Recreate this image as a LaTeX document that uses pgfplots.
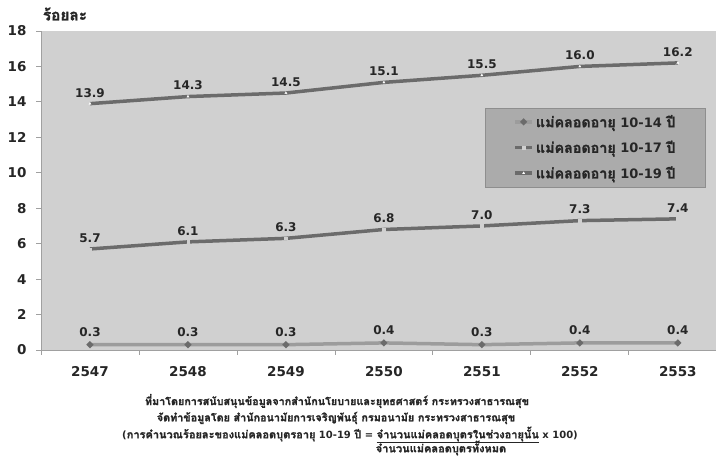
\documentclass[border=0pt]{standalone}
\usepackage{fontspec}
\setmainfont{DejaVu Sans}
\newfontfamily\thai[Script=Thai, Scale=1.1, BoldFeatures={FakeBold=1.5}]{Loma}
\usepackage{pgfplots}
\pgfplotsset{compat=1.18}
\definecolor{bg}{HTML}{D0D0D0}
\definecolor{legbg}{HTML}{ABABAB}
\definecolor{legdraw}{HTML}{8E8E8E}
\definecolor{lightln}{HTML}{9C9C9C}
\definecolor{darkln}{HTML}{6B6B6B}
\definecolor{axln}{HTML}{A0A0A0}
\definecolor{txt}{HTML}{262626}
\newcommand\fs[1]{\fontsize{#1}{#1}\selectfont}
\begin{document}
\begin{tikzpicture}[x=1pt,y=1pt]
\path[use as bounding box] (0,0) rectangle (716,457);
\begin{axis}[
  at={(41pt,107pt)}, anchor=south west,
  width=675pt, height=319pt, scale only axis,
  xmin=-0.5, xmax=6.39, ymin=0, ymax=18,
  ytick={0,2,...,18},
  xtick={0,...,6},
  xticklabels={2547,2548,2549,2550,2551,2552,2553},
  minor xtick={-0.5,0.5,...,5.5},
  axis x line*=bottom, axis y line*=left,
  axis line style={draw=axln, line width=0.8pt},
  axis background/.style={fill=bg},
  tick align=outside,
  major tick length=5pt, minor tick length=5pt,
  major x tick style={draw=none},
  minor x tick style={draw=axln, line width=0.8pt},
  ytick style={draw=axln, line width=0.8pt},
  /pgf/number format/assume math mode=true,
  ticklabel style={font=\bfseries\fs{13.5}, text=txt},
  xticklabel style={yshift=-8pt},
  yticklabel style={xshift=-6pt},
  clip=false,
  nodes near coords={\pgfmathprintnumber[fixed,fixed zerofill,precision=1]{\pgfplotspointmeta}},
  every node near coord/.append style={font=\bfseries\fs{12}, text=txt, anchor=south, yshift=3pt},
  legend style={at={(0.658,0.759)}, anchor=north west, fill=legbg, draw=legdraw,
    font=\bfseries\fs{13}, text=txt, inner xsep=28pt, inner ysep=5pt,
    row sep=8pt},
  legend cell align=left,
]
\addplot[lightln, line width=3.5pt, mark=*, mark size=1.2pt, mark options={fill=darkln, draw=darkln}]
  coordinates {(0,0.3) (1,0.3) (2,0.3) (3,0.4) (4,0.3) (5,0.4) (6,0.4)};
\addlegendentry{{\thai แม่คลอดอายุ} 10-14 {\thai ปี}}
\addplot[darkln, line width=3.5pt, mark=square*, mark size=1.3pt, mark options={fill=bg, draw=bg, line width=0.3pt}]
  coordinates {(0,5.7) (1,6.1) (2,6.3) (3,6.8) (4,7.0) (5,7.3) (6,7.4)};
\addlegendentry{{\thai แม่คลอดอายุ} 10-17 {\thai ปี}}
\addplot[darkln, line width=3.5pt, mark=triangle*, mark size=1.3pt, mark options={fill=white, draw=white, line width=0.3pt}]
  coordinates {(0,13.9) (1,14.3) (2,14.5) (3,15.1) (4,15.5) (5,16.0) (6,16.2)};
\addlegendentry{{\thai แม่คลอดอายุ} 10-19 {\thai ปี}}
\end{axis}
\node[font=\thai\bfseries\fs{14}, text=txt] at (65,443) {ร้อยละ};
\node[font=\bfseries\fs{9.8}, text=txt] at (337,56) {{\thai ที่มาโดยการสนับสนุนข้อมูลจากสำนักนโยบายและยุทธศาสตร์ กระทรวงสาธารณสุข}};
\node[font=\bfseries\fs{9.8}, text=txt] at (336,39) {{\thai จัดทำข้อมูลโดย สำนักอนามัยการเจริญพันธุ์ กรมอนามัย กระทรวงสาธารณสุข}};
\node[font=\bfseries\fs{10}, text=txt] at (350,22) {({\thai การคำนวณร้อยละของแม่คลอดบุตรอายุ} 10-19 {\thai ปี} = \underline{\thai จำนวนแม่คลอดบุตรในช่วงอายุนั้น} x 100)};
\node[font=\bfseries\fs{10}, text=txt] at (441,9) {{\thai จำนวนแม่คลอดบุตรทั้งหมด}};
\end{tikzpicture}
\end{document}
